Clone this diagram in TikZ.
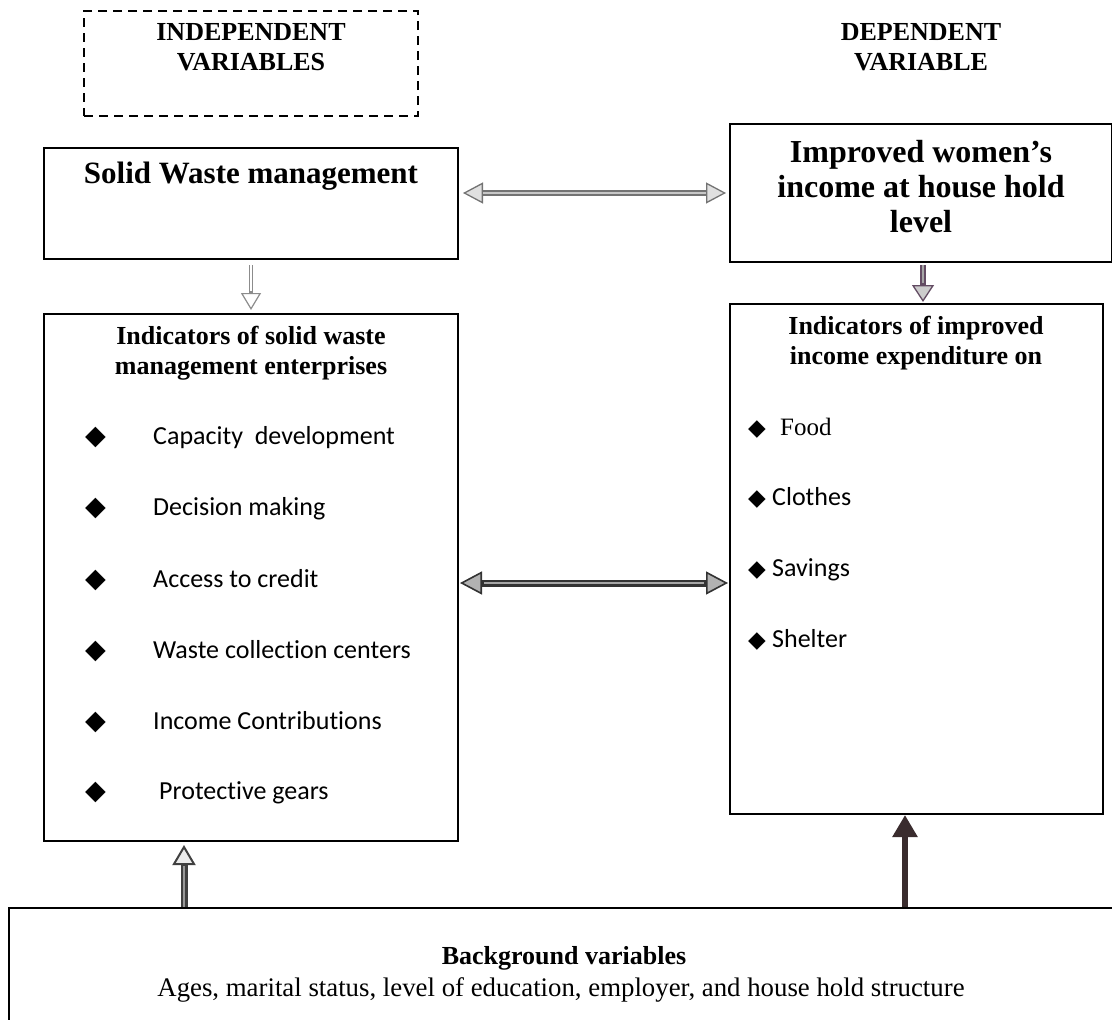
\documentclass[tikz,border=0pt]{standalone}
\usepackage{fontspec}
\setmainfont{Liberation Serif}
\newfontfamily\itemfont[Ligatures=NoCommon]{Carlito}
\newfontfamily\symfont{DejaVu Sans}
\usetikzlibrary{arrows.meta,calc}
\newcommand{\bul}[2]{\makebox[#1][l]{\symfont\fontsize{#2}{#2}\selectfont ◆}}
\begin{document}
\begin{tikzpicture}[x=1pt,y=-1pt,
  box/.style={draw=black,line width=2pt,inner sep=0pt,anchor=north west},
  hb/.style={font=\fontsize{26}{30}\selectfont\bfseries,align=center,inner sep=0pt},
  hbig/.style={font=\fontsize{31}{35}\selectfont\bfseries,align=center,inner sep=0pt},
  itm/.style={font=\fontsize{26}{30}\selectfont\itemfont,anchor=west,inner sep=0pt},
  itms/.style={font=\fontsize{25}{30}\selectfont,anchor=west,inner sep=0pt},
  toparrow/.style={draw=black!55,line width=6pt,
    {Triangle[length=20pt,width=21pt,line width=1.3pt,fill=black!12]}-{Triangle[length=20pt,width=21pt,line width=1.3pt,fill=black!12]},
    postaction={draw=black!22,line width=2.4pt,arrows=-,shorten <=24pt,shorten >=23pt}},
  midarrow/.style={draw=black!80,line width=7pt,
    {Triangle[length=22pt,width=23pt,line width=1.6pt,fill=black!30]}-{Triangle[length=22pt,width=23pt,line width=1.6pt,fill=black!30]},
    postaction={draw=black!35,line width=2.6pt,arrows=-,shorten <=25pt,shorten >=25pt}},
  downl/.style={draw=black!45,line width=4.5pt,
    -{Triangle[length=17pt,width=20pt,line width=1.2pt,fill=white]},
    postaction={draw=white,line width=2pt,arrows=-,shorten >=22pt,shorten <=5pt}},
  downr/.style={draw=violet!25!black!70,line width=6.5pt,
    -{Triangle[length=17pt,width=22pt,line width=1.3pt,fill=black!20]},
    postaction={draw=black!35,line width=2.6pt,arrows=-,shorten >=20pt,shorten <=2pt}},
  upl/.style={draw=black!75,line width=7pt,
    -{Triangle[length=20pt,width=23pt,line width=2pt,fill=black!8]},
    postaction={draw=black!40,line width=2.8pt,arrows=-,shorten >=24pt,shorten <=0pt}},
  upr/.style={draw={rgb,255:red,58;green,44;blue,46},line width=6pt,
    -{Triangle[length=22pt,width=24pt]}},
]
\useasboundingbox (0,0) rectangle (1112,1020);
\clip (0,0) rectangle (1112,1020);

% headings
\node[box,dash pattern=on 9pt off 6pt,line width=2.2pt,minimum width=334,minimum height=105] (indep) at (83,10) {};
\node[hb] (indept) at (251,47) {INDEPENDENT\\VARIABLES};
\node[hb] (dept) at (921,47) {DEPENDENT\\VARIABLE};

% top boxes
\node[box,minimum width=414,minimum height=111] (sw) at (43,147) {};
\node[hbig] (swt) at (251,176) {Solid Waste management};
\node[box,minimum width=382,minimum height=138] (imp) at (729,123) {};
\node[hbig,font=\fontsize{32}{35}\selectfont\bfseries] (impt) at (921,187) {Improved women’s\\income at house hold\\level};

% indicator boxes
\node[box,minimum width=414,minimum height=527] (lb) at (43,313) {};
\node[hb] (lbt) at (251,353) {Indicators of solid waste\\management enterprises};
\node[box,minimum width=373,minimum height=510] (rb) at (729,303) {};
\node[hb] (rbt) at (916,343) {Indicators of improved\\income expenditure on};

% left items
\node[itm] (i1) at (85,438) {\bul{68pt}{27}Capacity\ \ development};
\node[itm] (i2) at (85,509) {\bul{68pt}{27}Decision making};
\node[itm] (i3) at (85,580) {\bul{68pt}{27}Access to credit};
\node[itm] (i4) at (85,651) {\bul{68pt}{27}Waste collection centers};
\node[itm] (i5) at (85,722) {\bul{68pt}{27}Income Contributions};
\node[itm] (i6) at (85,793) {\bul{74pt}{27}Protective gears};

% right items
\node[itms] (r1) at (748,428) {\bul{32pt}{23}Food};
\node[itm] (r2) at (748,498) {\bul{24pt}{23}Clothes};
\node[itm] (r3) at (748,570) {\bul{24pt}{23}Savings};
\node[itm] (r4) at (748,640) {\bul{24pt}{23}Shelter};

% background
\node[box,minimum width=1130,minimum height=140] (bg) at (8,907) {};
\node[hb] (bgt) at (564,958) {Background variables};
\node[font=\fontsize{26.8}{30}\selectfont,inner sep=0pt] (bga) at (561,990) {Ages, marital status, level of education, employer, and house hold structure};

% connectors
\coordinate (ta) at (600,193);
\coordinate (ma) at (600,583);
\coordinate (ul) at (184,0);
\coordinate (ur) at (905,0);
\coordinate (dr) at (923,0);
\draw[toparrow,shorten <=4pt,shorten >=3pt] (sw.east |- ta) -- (imp.west |- ta);
\draw[midarrow,shorten <=1pt,shorten >=1pt] (lb.east |- ma) -- (rb.west |- ma);
\draw[downl,shorten <=5pt,shorten >=3pt] (sw.south) -- (lb.north);
\draw[downr,shorten <=2pt,shorten >=1pt] (imp.south -| dr) -- (rb.north -| dr);
\draw[upl,shorten >=3pt] (bg.north -| ul) -- (lb.south -| ul);
\draw[upr] (bg.north -| ur) -- (rb.south -| ur);
\end{tikzpicture}
\end{document}
